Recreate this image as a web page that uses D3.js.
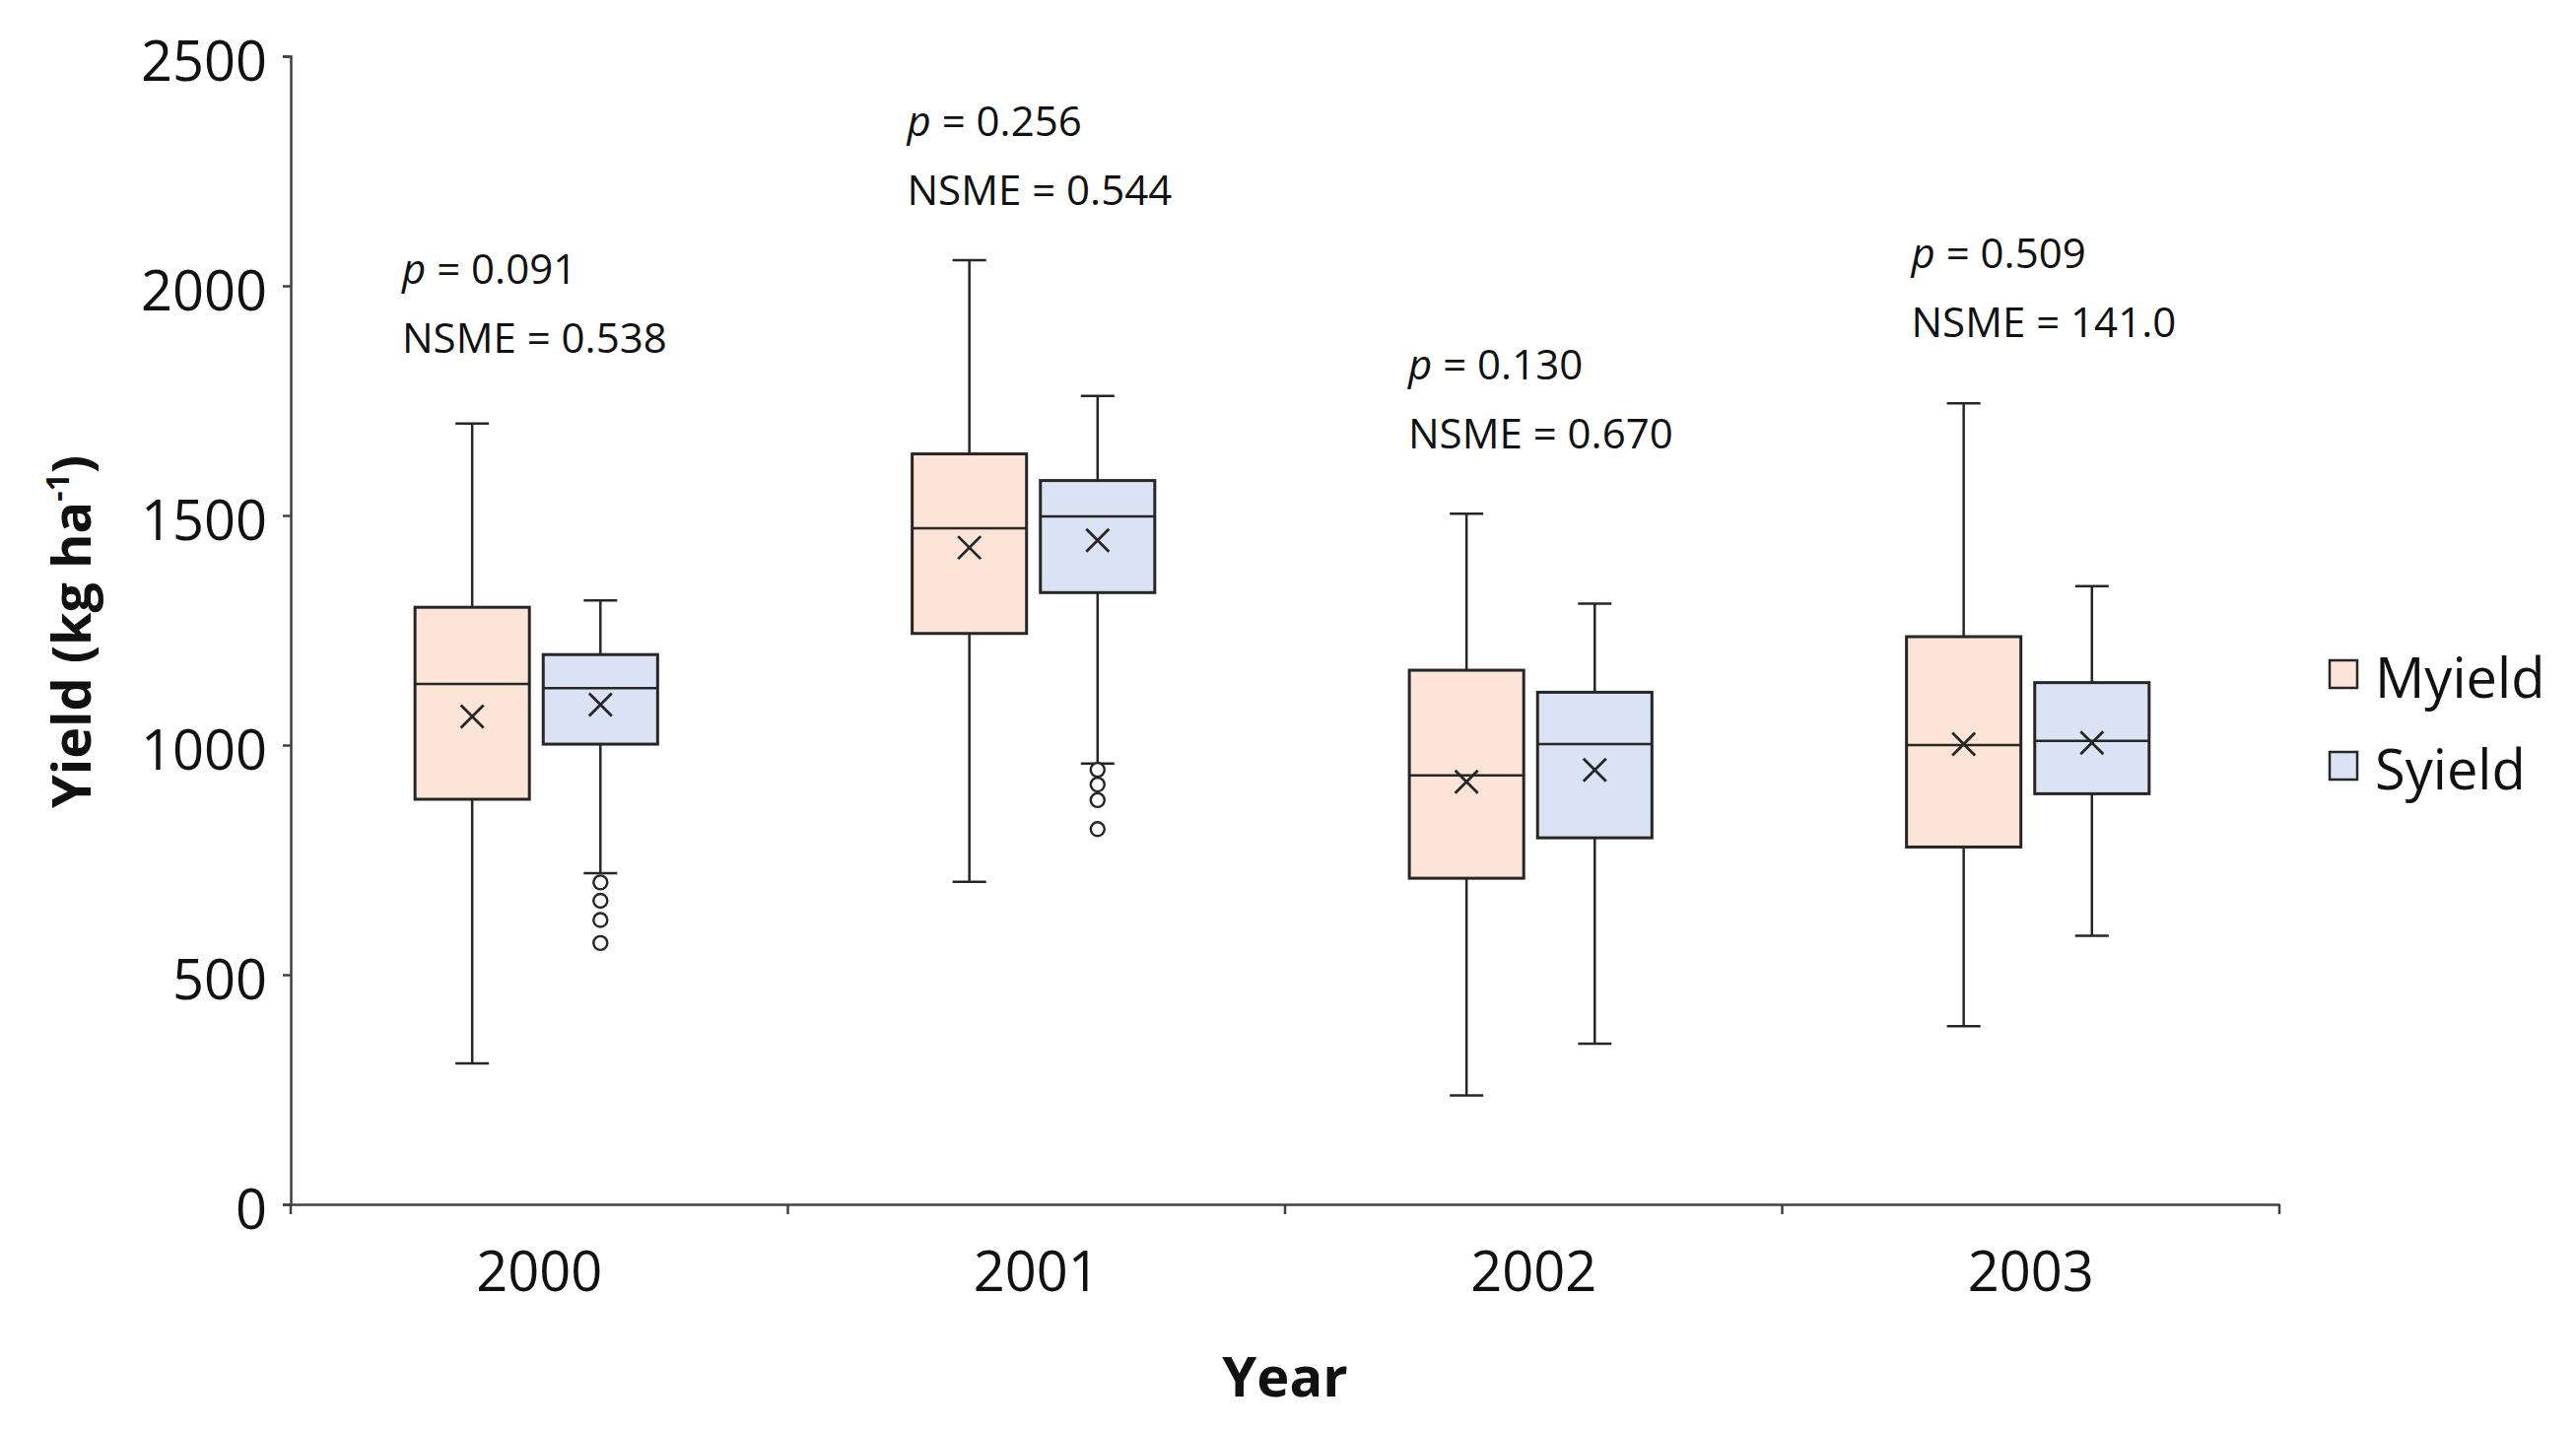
<!DOCTYPE html>
<html><head><meta charset="utf-8">
<script src="https://cdn.jsdelivr.net/npm/d3@7"></script>
<style>body{margin:0;background:#fff} svg{display:block}</style>
</head><body><svg id="c" width="2614" height="1452"></svg>
<script>
// ---------- DATA ----------
const years = ["2000", "2001", "2002", "2003"];
const series = ["Myield", "Syield"];
const yTicks = [0, 500, 1000, 1500, 2000, 2500];

const myieldLow    = [307, 702, 237, 388];
const myieldQ1     = [882, 1243, 710, 778];
const myieldMedian = [1133, 1472, 934, 1000];
const myieldQ3     = [1300, 1634, 1163, 1236];
const myieldHigh   = [1700, 2056, 1504, 1744];
const myieldMean   = [1062, 1430, 920, 1002];
const myieldOutliers = [[], [], [], []];

const syieldLow    = [721, 960, 350, 585];
const syieldQ1     = [1002, 1332, 798, 894];
const syieldMedian = [1124, 1498, 1002, 1009];
const syieldQ3     = [1197, 1576, 1115, 1136];
const syieldHigh   = [1315, 1760, 1308, 1346];
const syieldMean   = [1088, 1446, 946, 1005];
const syieldOutliers = [[701, 661, 619, 569], [946, 914, 880, 817], [], []];

const pValues = ["0.091", "0.256", "0.130", "0.509"];
const nsmeValues = ["0.538", "0.544", "0.670", "141.0"];

// ---------- LAYOUT ----------
const annotX = [113, 121, 125, 131];        // px from band start
const annotLevel = [1855, 2177, 1645, 1888]; // NSME baseline, in axis units
const colors = {Myield: "#FCE4D6", Syield: "#DAE3F3"};
const ink = "#262626";
const FONT = "'Open Sans', 'Noto Sans', sans-serif";

const stats = {
  Myield: years.map((yr, i) => ({year: yr, low: myieldLow[i], q1: myieldQ1[i], med: myieldMedian[i], q3: myieldQ3[i], high: myieldHigh[i], mean: myieldMean[i], out: myieldOutliers[i]})),
  Syield: years.map((yr, i) => ({year: yr, low: syieldLow[i], q1: syieldQ1[i], med: syieldMedian[i], q3: syieldQ3[i], high: syieldHigh[i], mean: syieldMean[i], out: syieldOutliers[i]}))
};

const svg = d3.select("#c");
const x = d3.scaleBand().domain(years).range([295, 2313]);
const y = d3.scaleLinear().domain([0, 2500]).range([1222, 57]);
const bw = x.bandwidth();
const xs = d3.scaleBand().domain(series).range([bw * 0.25, bw * 0.738]).paddingInner(0.108);
const boxW = xs.bandwidth();
const capW = 34;

// ---------- AXES ----------
const yAxis = svg.append("g").attr("transform", "translate(295,0)")
  .call(d3.axisLeft(y).tickValues(yTicks).tickSize(8).tickPadding(16).tickFormat(d3.format("d")));
yAxis.selectAll("path,line").attr("stroke", "#404040").attr("stroke-width", 2.5);
yAxis.selectAll("text").attr("font-family", FONT).attr("font-size", 56).attr("fill", "#111").attr("dy", "0.44em");

const xAxis = svg.append("g").attr("transform", "translate(0,1222)")
  .call(d3.axisBottom(x).tickSize(0).tickPadding(48));
xAxis.select(".domain").attr("stroke", "#404040").attr("stroke-width", 2.5);
xAxis.selectAll("text").attr("font-family", FONT).attr("font-size", 56).attr("fill", "#111");
// boundary ticks
const bounds = years.map(d => x(d)).concat([x.range()[1]]);
xAxis.selectAll("line.bt").data(bounds).join("line").attr("class", "bt")
  .attr("x1", d => d).attr("x2", d => d).attr("y1", 0).attr("y2", 10)
  .attr("stroke", "#404040").attr("stroke-width", 2.5);

// axis titles
svg.append("text").attr("x", (x.range()[0] + x.range()[1]) / 2).attr("y", 1417)
  .attr("text-anchor", "middle").attr("font-family", FONT).attr("font-weight", "bold")
  .attr("font-size", 56).attr("fill", "#111").text("Year");

const yt = svg.append("text").attr("transform", "translate(92,641) rotate(-90)")
  .attr("text-anchor", "middle").attr("font-family", FONT).attr("font-weight", "bold")
  .attr("font-size", 54).attr("fill", "#111");
yt.append("tspan").text("Yield (kg ha");
yt.append("tspan").attr("font-size", 32).attr("dy", -22).text("-1");
yt.append("tspan").attr("font-size", 54).attr("dy", 22).text(")");

// ---------- BOXES ----------
series.forEach(s => {
  const g = svg.append("g");
  const items = g.selectAll("g.item").data(stats[s]).join("g")
    .attr("transform", d => `translate(${x(d.year) + xs(s)},0)`);
  const cx = boxW / 2;
  // whiskers
  items.append("line").attr("x1", cx).attr("x2", cx).attr("y1", d => y(d.high)).attr("y2", d => y(d.q3))
    .attr("stroke", ink).attr("stroke-width", 2.5);
  items.append("line").attr("x1", cx).attr("x2", cx).attr("y1", d => y(d.q1)).attr("y2", d => y(d.low))
    .attr("stroke", ink).attr("stroke-width", 2.5);
  items.append("line").attr("x1", cx - capW / 2).attr("x2", cx + capW / 2).attr("y1", d => y(d.high)).attr("y2", d => y(d.high))
    .attr("stroke", ink).attr("stroke-width", 2.5);
  items.append("line").attr("x1", cx - capW / 2).attr("x2", cx + capW / 2).attr("y1", d => y(d.low)).attr("y2", d => y(d.low))
    .attr("stroke", ink).attr("stroke-width", 2.5);
  // box
  items.append("rect").attr("x", 0).attr("width", boxW)
    .attr("y", d => y(d.q3)).attr("height", d => y(d.q1) - y(d.q3))
    .attr("fill", colors[s]).attr("stroke", ink).attr("stroke-width", 3);
  // median
  items.append("line").attr("x1", 0).attr("x2", boxW).attr("y1", d => y(d.med)).attr("y2", d => y(d.med))
    .attr("stroke", ink).attr("stroke-width", 2.5);
  // mean marker (x)
  const m = 11.5;
  items.append("path")
    .attr("d", d => `M${cx - m},${y(d.mean) - m}L${cx + m},${y(d.mean) + m}M${cx - m},${y(d.mean) + m}L${cx + m},${y(d.mean) - m}`)
    .attr("stroke", ink).attr("stroke-width", 2.8).attr("fill", "none");
  // outliers
  items.selectAll("circle").data(d => d.out).join("circle")
    .attr("cx", cx).attr("cy", v => y(v)).attr("r", 7)
    .attr("fill", "#fff").attr("stroke", ink).attr("stroke-width", 2.4);
});

// ---------- ANNOTATIONS ----------
years.forEach((yr, i) => {
  const ax = x(yr) + annotX[i];
  const by = y(annotLevel[i]);
  const t1 = svg.append("text").attr("x", ax).attr("y", by - 70)
    .attr("font-family", FONT).attr("font-size", 42).attr("fill", "#111");
  t1.append("tspan").attr("font-style", "italic").text("p");
  t1.append("tspan").text(" = " + pValues[i]);
  svg.append("text").attr("x", ax).attr("y", by)
    .attr("font-family", FONT).attr("font-size", 42).attr("fill", "#111")
    .text("NSME = " + nsmeValues[i]);
});

// ---------- LEGEND ----------
const lg = svg.append("g").attr("transform", "translate(2364,670)");
const li = lg.selectAll("g").data(series).join("g").attr("transform", (d, i) => `translate(0,${i * 93})`);
li.append("rect").attr("width", 28).attr("height", 28).attr("fill", d => colors[d])
  .attr("stroke", ink).attr("stroke-width", 2.5);
li.append("text").attr("x", 46).attr("y", 38).attr("font-family", FONT).attr("font-size", 56)
  .attr("fill", "#111").text(d => d);
</script>
</body></html>
